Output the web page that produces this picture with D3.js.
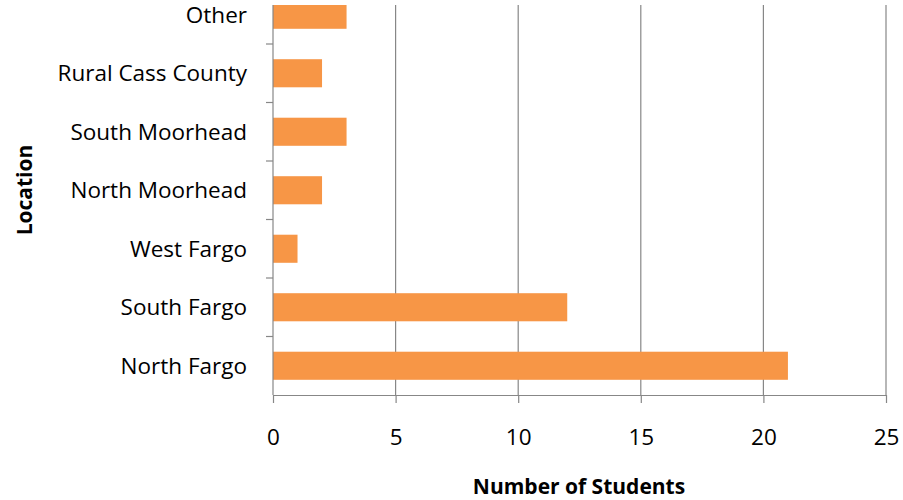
<!DOCTYPE html>
<html>
<head>
<meta charset="utf-8">
<script src="https://cdn.jsdelivr.net/npm/d3@7"></script>
<style>
  html, body { margin: 0; padding: 0; background: #fff; }
  svg { display: block; }
  text { font-family: "Open Sans", "Noto Sans", sans-serif; fill: #000; }
</style>
</head>
<body>
<div id="chart"></div>
<script>
// Students by home location
const locations = ["Other", "Rural Cass County", "South Moorhead", "North Moorhead", "West Fargo", "South Fargo", "North Fargo"];
const students = [3, 2, 3, 2, 1, 12, 21];
const xTicks = [0, 5, 10, 15, 20, 25];

const width = 903, height = 500;
const x0 = 273, x1 = 886;
const axisY = 395;
const step = 58.5;
const topY = axisY - step * locations.length;
const clipTop = 5;
const labelSize = 22.5;

const svg = d3.select("#chart").append("svg")
  .attr("width", width).attr("height", height);

svg.append("defs").append("clipPath").attr("id", "plotClip")
  .append("rect").attr("x", 0).attr("y", clipTop).attr("width", width).attr("height", axisY - clipTop + 20);

const x = d3.scaleLinear().domain([0, 25]).range([x0, x1]);
const y = d3.scaleBand().domain(locations).range([topY, axisY]).paddingInner(0.52).paddingOuter(0.26);
const yEdge = d3.scaleLinear().domain([0, locations.length]).range([topY, axisY]);

const plot = svg.append("g").attr("clip-path", "url(#plotClip)");

// vertical gridlines
plot.selectAll("line.grid").data(xTicks.slice(1)).join("line")
  .attr("class", "grid")
  .attr("x1", d => x(d)).attr("x2", d => x(d))
  .attr("y1", clipTop).attr("y2", axisY)
  .attr("stroke", "#878787").attr("stroke-width", 1.2);

// bars
plot.selectAll("rect.bar").data(locations).join("rect")
  .attr("class", "bar")
  .attr("x", x(0))
  .attr("y", d => y(d))
  .attr("width", (d, i) => x(students[i]) - x(0))
  .attr("height", y.bandwidth())
  .attr("fill", "#F79646");

// y axis line and category ticks
plot.append("line")
  .attr("x1", x0).attr("x2", x0).attr("y1", clipTop).attr("y2", axisY)
  .attr("stroke", "#878787").attr("stroke-width", 1.2);
plot.selectAll("line.ytick").data(d3.range(locations.length)).join("line")
  .attr("class", "ytick")
  .attr("x1", x0 - 7).attr("x2", x0)
  .attr("y1", d => yEdge(d)).attr("y2", d => yEdge(d))
  .attr("stroke", "#878787").attr("stroke-width", 1.2);

// x axis
const xAxis = d3.axisBottom(x).tickValues(xTicks).tickSize(8).tickPadding(26).tickSizeOuter(0);
const gx = svg.append("g").attr("transform", `translate(0,${axisY})`).call(xAxis);
gx.select(".domain").attr("stroke", "#878787").attr("stroke-width", 1.2);
gx.selectAll(".tick line").attr("stroke", "#878787").attr("stroke-width", 1.2);
gx.selectAll(".tick text").attr("font-size", labelSize).attr("font-family", "Open Sans, sans-serif").attr("fill", "#000");

// category labels
svg.selectAll("text.cat").data(locations).join("text")
  .attr("class", "cat")
  .attr("x", x0 - 26)
  .attr("y", d => y(d) + y.bandwidth() / 2)
  .attr("dy", "0.35em")
  .attr("text-anchor", "end")
  .attr("font-size", labelSize)
  .text(d => d);

// axis titles
svg.append("text")
  .attr("x", 579).attr("y", 494)
  .attr("text-anchor", "middle")
  .attr("font-size", 21).attr("font-weight", "bold")
  .text("Number of Students");

svg.append("text")
  .attr("transform", `translate(32,190) rotate(-90)`)
  .attr("text-anchor", "middle")
  .attr("font-size", 21).attr("font-weight", "bold")
  .text("Location");
</script>
</body>
</html>
